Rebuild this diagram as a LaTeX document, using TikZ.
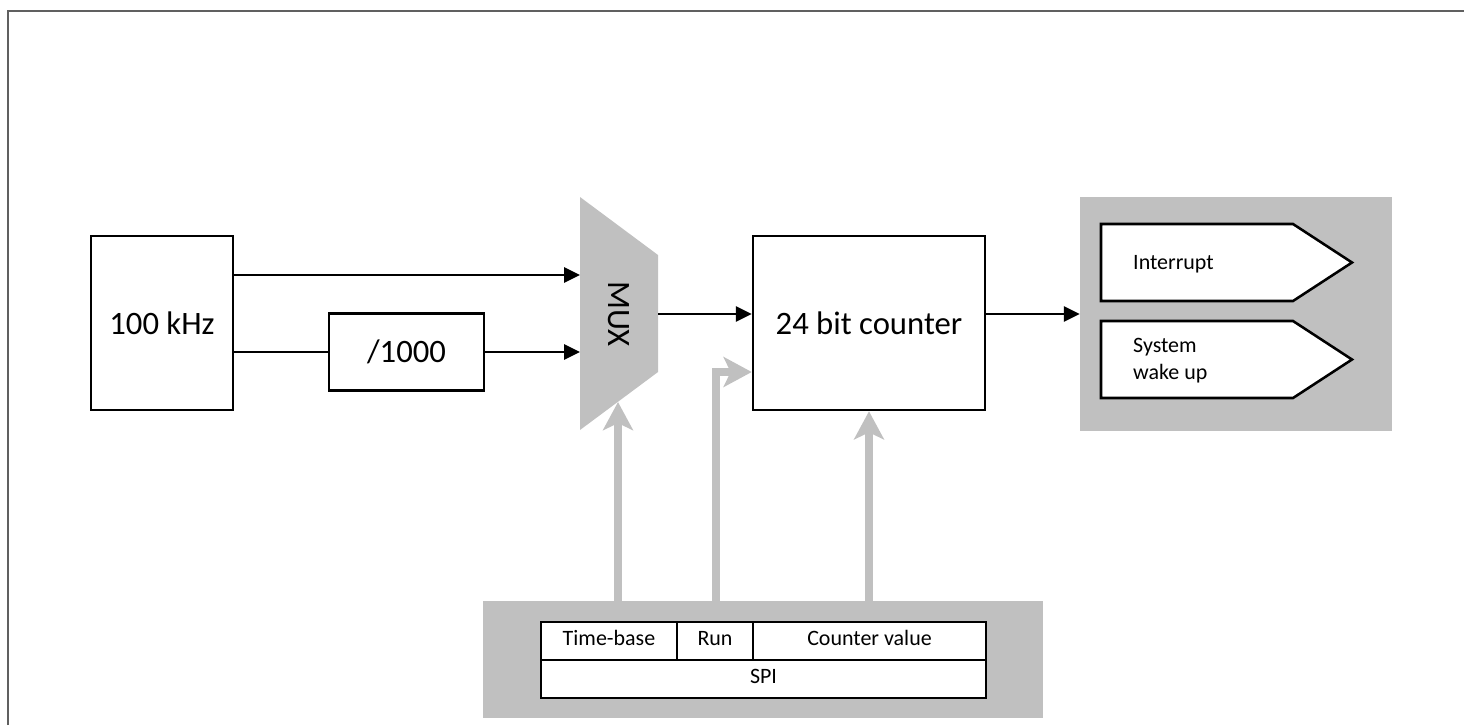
\documentclass[tikz,border=0pt]{standalone}
\usepackage{fontspec}
\setmainfont{Carlito}
\usetikzlibrary{arrows.meta}
\definecolor{blockgray}{RGB}{192,192,192}
\definecolor{framegray}{RGB}{96,96,96}
\tikzset{
  x=0.02cm, y=-0.02cm,
  bigtext/.style={font=\fontsize{18.6}{22}\selectfont},
  smalltext/.style={font=\fontsize{12.5}{15.3}\selectfont},
  box/.style={draw=black, line width=1.45pt, fill=white, inner sep=0pt, bigtext},
  cell/.style={draw=black, line width=1.45pt, fill=white, inner sep=0pt, smalltext,
    text height=0.7em, text depth=0.2em},
  sig/.style={draw=black, line width=1.45pt, -{Triangle[length=9pt,width=8.5pt]}},
  ctrl/.style={draw=blockgray, line width=4.6pt, miter limit=10,
    -{Stealth[length=16pt,width=17pt,inset=4pt]}},
  panel/.style={fill=blockgray, draw=none, inner sep=0pt},
}
\begin{document}
\begin{tikzpicture}
\useasboundingbox (0,0) rectangle (1464,725);

% outer frame
\draw[framegray, line width=1.1pt] (8,725) -- (8,11) -- (1464,11);

% clock source and divider
\node[box, minimum width=2.84cm, minimum height=3.48cm] (clk) at (162,323) {100 kHz};
\node[box, minimum width=3.10cm, minimum height=1.54cm] (div) at (406.5,352) {/1000};

% multiplexer
\fill[blockgray] (580,197) -- (658,255) -- (658,372) -- (580,430) -- cycle;
\node[bigtext, rotate=-90] (mux) at (619,314) {MUX};
\coordinate (muxinA) at (580,275);
\coordinate (muxinB) at (580,352);
\coordinate (muxout) at (658,314);
\coordinate (muxbot) at (618,402);

% counter
\node[box, minimum width=4.64cm, minimum height=3.48cm] (cnt) at (869,323) {24 bit counter};

% outputs panel
\node[panel, minimum width=6.24cm, minimum height=4.68cm] (outp) at (1236,314) {};
\filldraw[fill=white, draw=black, line width=1.45pt]
  (1101,224) -- (1293,224) -- (1352,262.5) -- (1293,301) -- (1101,301) -- cycle;
\node[smalltext, anchor=west] (irq) at (1127,264) {Interrupt};
\filldraw[fill=white, draw=black, line width=1.45pt]
  (1101,321) -- (1293,321) -- (1352,359.5) -- (1293,398) -- (1101,398) -- cycle;
\node[smalltext, anchor=west, align=left] (wake) at (1127,361) {System\\wake up};

% SPI panel and register table
\node[panel, minimum width=11.2cm, minimum height=2.34cm] (spipanel) at (763,659.5) {};
\node[cell, minimum width=2.72cm, minimum height=0.76cm] (tb) at (609,641) {Time-base};
\node[cell, minimum width=1.52cm, minimum height=0.76cm] (run) at (715,641) {Run};
\node[cell, minimum width=4.66cm, minimum height=0.76cm] (cv) at (869.5,641) {Counter value};
\node[cell, minimum width=8.90cm, minimum height=0.76cm] (spi) at (763.5,679) {SPI};

% data path
\draw[sig] (clk.east |- muxinA) -- (muxinA);
\draw[line width=1.45pt] (clk.east |- muxinB) -- (div.west);
\draw[sig] (div.east) -- (muxinB);
\draw[sig] (muxout) -- (cnt.west |- muxout);
\draw[sig] (cnt.east |- muxout) -- (outp.west);

% control from SPI
\draw[ctrl] (spipanel.north -| muxbot) -- (muxbot);
\coordinate (runin) at (cnt.west |- 0,372);
\draw[ctrl] (spipanel.north -| 716,0) -- (716,372) -- (runin);
\draw[ctrl] (spipanel.north -| cnt.south) -- (cnt.south);
\end{tikzpicture}
\end{document}
